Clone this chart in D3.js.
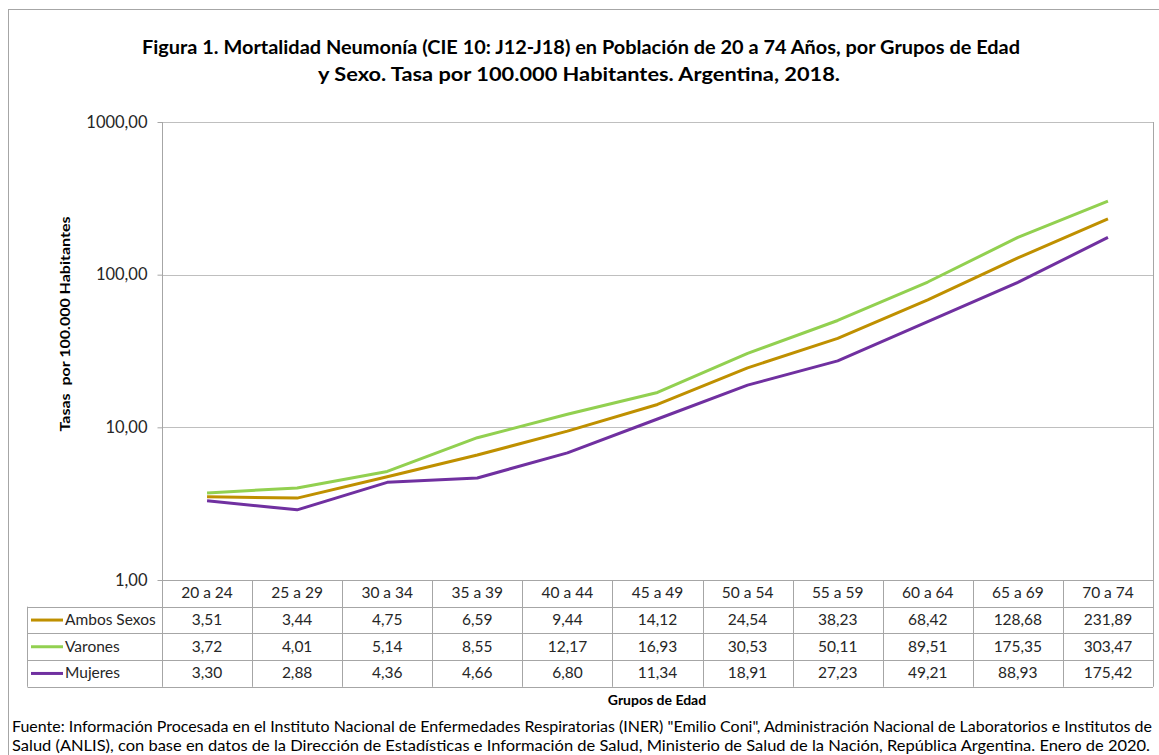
<!DOCTYPE html>
<html>
<head>
<meta charset="utf-8">
<script src="https://cdn.jsdelivr.net/npm/d3@7"></script>
<style>
  body { margin: 0; background: #fff; }
  svg { font-family: Lato, "Open Sans", sans-serif; }
</style>
</head>
<body>
<svg id="chart" width="1159" height="755"></svg>
<script>
const categories = ['20 a 24', '25 a 29', '30 a 34', '35 a 39', '40 a 44', '45 a 49', '50 a 54', '55 a 59', '60 a 64', '65 a 69', '70 a 74'];
const ambos = [3.51, 3.44, 4.75, 6.59, 9.44, 14.12, 24.54, 38.23, 68.42, 128.68, 231.89];
const varones = [3.72, 4.01, 5.14, 8.55, 12.17, 16.93, 30.53, 50.11, 89.51, 175.35, 303.47];
const mujeres = [3.30, 2.88, 4.36, 4.66, 6.80, 11.34, 18.91, 27.23, 49.21, 88.93, 175.42];
const seriesNames = ['Ambos Sexos', 'Varones', 'Mujeres'];
const seriesColors = ['#BF9000', '#92D050', '#7030A0'];
const yTicks = [1, 10, 100, 1000];

const series = [ambos, varones, mujeres].map((values, i) => ({
  name: seriesNames[i], color: seriesColors[i], values
}));

const fmt = v => d3.format('.2f')(v).replace('.', ',');

const svg = d3.select('#chart');
const plot = { left: 162, right: 1153, top: 122, bottom: 580 };
const rowH = 26.7;
const tableTop = plot.bottom;
const tableFont = 15.5;

// outer frame
svg.append('rect')
  .attr('x', 8.5).attr('y', 9.5).attr('width', 1160).attr('height', 760)
  .attr('fill', 'none').attr('stroke', '#a6a6a6').attr('stroke-width', 1);

// title
const title = svg.append('text')
  .attr('text-anchor', 'middle').attr('font-weight', 'bold').attr('font-size', 18).attr('fill', '#000');
title.append('tspan').attr('x', 581).attr('y', 54)
  .text('Figura 1. Mortalidad Neumonía (CIE 10: J12-J18) en Población de 20 a 74 Años, por Grupos de Edad')
  .attr('textLength', 878).attr('lengthAdjust', 'spacingAndGlyphs');
title.append('tspan').attr('x', 579).attr('y', 81)
  .text('y Sexo. Tasa por 100.000 Habitantes. Argentina, 2018.')
  .attr('textLength', 522).attr('lengthAdjust', 'spacingAndGlyphs');

const x = d3.scaleBand().domain(categories).range([plot.left, plot.right]);
const y = d3.scaleLog().domain([1, 1000]).range([plot.bottom, plot.top]);

// gridlines
svg.append('g').selectAll('line').data(yTicks.slice(1)).join('line')
  .attr('x1', plot.left).attr('x2', plot.right)
  .attr('y1', d => Math.round(y(d)) + 0.5).attr('y2', d => Math.round(y(d)) + 0.5)
  .attr('stroke', '#bfbfbf').attr('stroke-width', 1);

// plot border right
svg.append('line')
  .attr('x1', plot.right + 0.5).attr('x2', plot.right + 0.5)
  .attr('y1', plot.top).attr('y2', tableTop + rowH * 4)
  .attr('stroke', '#a6a6a6');

// y axis
const yAxis = d3.axisLeft(y).tickValues(yTicks).tickFormat(fmt).tickSize(5).tickPadding(10);
const yg = svg.append('g').attr('transform', `translate(${plot.left + 0.5},0)`).call(yAxis);
yg.select('.domain').remove();
yg.selectAll('.tick line').attr('stroke', '#a6a6a6');
yg.selectAll('.tick text').attr('font-size', 16.5).attr('fill', '#262626').attr('font-family', 'Lato, sans-serif');
svg.append('line')
  .attr('x1', plot.left + 0.5).attr('x2', plot.left + 0.5)
  .attr('y1', plot.top).attr('y2', tableTop + rowH * 4)
  .attr('stroke', '#a6a6a6');

// y axis title
svg.append('text')
  .attr('transform', 'translate(70,324) rotate(-90)')
  .attr('text-anchor', 'middle').attr('font-weight', 'bold').attr('font-size', 14)
  .style('white-space', 'pre')
  .text('Tasas  por 100.000 Habitantes')
  .attr('textLength', 215).attr('lengthAdjust', 'spacingAndGlyphs');

// lines
const line = d3.line()
  .x((d, i) => x(categories[i]) + x.bandwidth() / 2)
  .y(d => y(d));
svg.append('g').selectAll('path').data(series).join('path')
  .attr('d', d => line(d.values))
  .attr('fill', 'none')
  .attr('stroke', d => d.color)
  .attr('stroke-width', 3)
  .attr('stroke-linejoin', 'round');

// data table
const table = svg.append('g');
const tableLeft = 27;
const hLines = [0, 1, 2, 3, 4].map(i => tableTop + rowH * i);
table.selectAll('line.h').data(hLines).join('line')
  .attr('class', 'h')
  .attr('x1', (d, i) => i === 0 ? plot.left : tableLeft + 0.5)
  .attr('x2', plot.right)
  .attr('y1', d => Math.round(d) + 0.5).attr('y2', d => Math.round(d) + 0.5)
  .attr('stroke', '#a6a6a6');
table.selectAll('line.v').data(categories.slice(1)).join('line')
  .attr('class', 'v')
  .attr('x1', d => Math.round(x(d)) + 0.5).attr('x2', d => Math.round(x(d)) + 0.5)
  .attr('y1', tableTop).attr('y2', tableTop + rowH * 4)
  .attr('stroke', '#a6a6a6');
table.append('line')
  .attr('x1', tableLeft + 0.5).attr('x2', tableLeft + 0.5)
  .attr('y1', tableTop + rowH).attr('y2', tableTop + rowH * 4)
  .attr('stroke', '#a6a6a6');

// category header
table.selectAll('text.cat').data(categories).join('text')
  .attr('class', 'cat')
  .attr('x', d => x(d) + x.bandwidth() / 2)
  .attr('y', tableTop + rowH / 2 + 5)
  .attr('text-anchor', 'middle').attr('font-size', tableFont).attr('fill', '#262626')
  .text(d => d);

// rows
series.forEach((s, r) => {
  const cy = tableTop + rowH * (r + 1) + rowH / 2;
  table.append('line')
    .attr('x1', 31).attr('x2', 63).attr('y1', cy).attr('y2', cy)
    .attr('stroke', s.color).attr('stroke-width', 3);
  table.append('text')
    .attr('x', 65).attr('y', cy + 5).attr('font-size', tableFont).attr('fill', '#262626')
    .text(s.name);
  table.selectAll(null).data(s.values).join('text')
    .attr('x', (d, i) => x(categories[i]) + x.bandwidth() / 2)
    .attr('y', cy + 5)
    .attr('text-anchor', 'middle').attr('font-size', tableFont).attr('fill', '#262626')
    .text(d => fmt(d));
});

// x axis title
svg.append('text')
  .attr('x', 657).attr('y', 705)
  .attr('text-anchor', 'middle').attr('font-weight', 'bold').attr('font-size', 14)
  .text('Grupos de Edad');

// source
const src = svg.append('text').attr('font-size', 15).attr('fill', '#000');
src.append('tspan').attr('x', 12).attr('y', 732)
  .text('Fuente: Información Procesada en el Instituto Nacional de Enfermedades Respiratorias (INER) "Emilio Coni", Administración Nacional de Laboratorios e Institutos de')
  .attr('textLength', 1140).attr('lengthAdjust', 'spacingAndGlyphs');
src.append('tspan').attr('x', 12).attr('y', 751)
  .text('Salud (ANLIS), con base en datos de la Dirección de Estadísticas e Información de Salud, Ministerio de Salud de la Nación, República Argentina. Enero de 2020.')
  .attr('textLength', 1138).attr('lengthAdjust', 'spacingAndGlyphs');
</script>
</body>
</html>
